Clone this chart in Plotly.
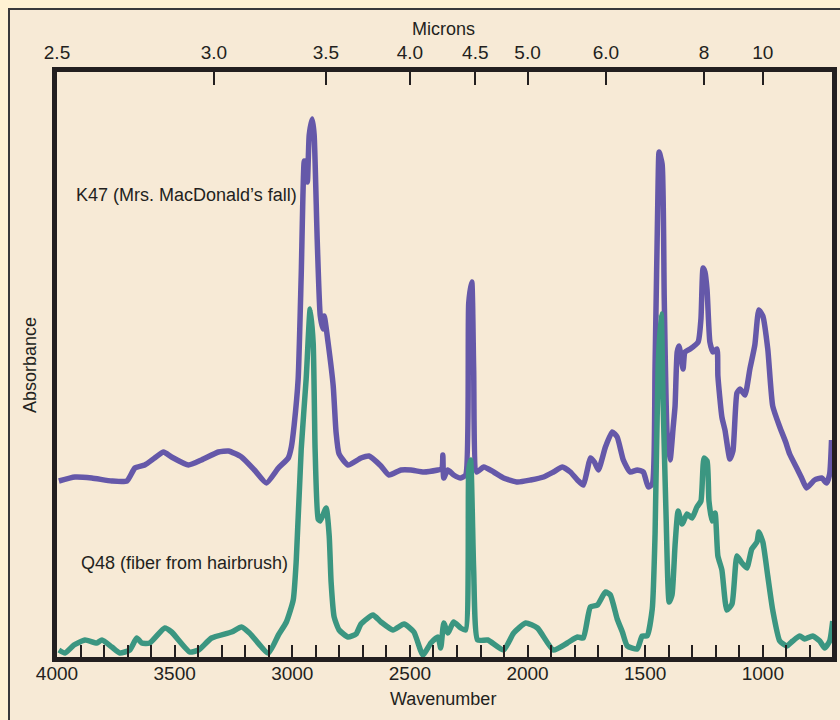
import plotly.graph_objects as go

# ---------------- data ----------------
k47_wavenumber = [3992, 3924, 3852, 3767, 3703, 3669, 3627, 3585, 3547, 3513, 3441, 3386, 3314, 3271,
                  3216, 3161, 3110, 3059, 3017, 3004, 2992, 2975, 2962, 2949, 2936, 2928, 2915, 2907,
                  2894, 2881, 2869, 2864, 2847, 2826, 2814, 2801, 2763, 2708, 2674, 2623, 2589, 2538,
                  2496, 2441, 2381, 2364, 2360, 2356, 2339, 2314, 2284, 2263, 2250, 2237, 2229, 2216,
                  2186, 2144, 2102, 2042, 1987, 1932, 1890, 1852, 1818, 1788, 1763, 1746, 1733, 1716,
                  1699, 1669, 1640, 1619, 1593, 1564, 1534, 1508, 1487, 1470, 1458, 1445, 1441, 1428,
                  1419, 1407, 1394, 1381, 1373, 1364, 1356, 1339, 1331, 1309, 1275, 1263, 1254, 1246,
                  1237, 1225, 1212, 1195, 1191, 1174, 1161, 1140, 1127, 1110, 1097, 1076, 1055, 1034,
                  1017, 1000, 979, 958, 928, 903, 886, 856, 835, 814, 780, 750, 729, 716, 708]
k47_absorbance = [176, 180, 179, 176, 176, 189, 192, 199, 205, 200, 192, 197, 205, 206,
                  200, 187, 174, 189, 199, 210, 232, 278, 382, 496, 475, 522, 538, 522,
                  417, 341, 328, 341, 313, 271, 225, 203, 192, 199, 201, 191, 182, 187,
                  187, 185, 187, 188, 202, 179, 187, 182, 179, 182, 354, 375, 287, 185,
                  190, 185, 179, 175, 177, 180, 185, 190, 185, 177, 172, 187, 199, 195,
                  187, 210, 225, 220, 197, 185, 187, 185, 170, 173, 291, 476, 505, 493,
                  358, 224, 197, 230, 251, 305, 311, 288, 305, 308, 315, 338, 389, 385,
                  367, 315, 305, 308, 281, 240, 227, 198, 206, 264, 268, 262, 288, 312,
                  347, 341, 308, 251, 230, 215, 203, 189, 179, 169, 177, 179, 174, 183, 217]

q48_wavenumber = [3992, 3966, 3928, 3881, 3831, 3809, 3767, 3733, 3691, 3661, 3640, 3606, 3542, 3513,
                  3436, 3398, 3343, 3258, 3216, 3182, 3102, 3059, 3025, 2996, 2983, 2962, 2941, 2924,
                  2911, 2903, 2890, 2881, 2856, 2843, 2835, 2822, 2801, 2763, 2729, 2708, 2657, 2623,
                  2572, 2525, 2483, 2445, 2411, 2381, 2369, 2356, 2339, 2314, 2284, 2263, 2250, 2242,
                  2229, 2212, 2169, 2102, 2059, 2008, 1958, 1890, 1831, 1788, 1763, 1733, 1703, 1669,
                  1648, 1619, 1597, 1576, 1534, 1513, 1492, 1470, 1458, 1445, 1432, 1424, 1411, 1398,
                  1386, 1373, 1360, 1343, 1322, 1301, 1280, 1263, 1250, 1237, 1229, 1216, 1203, 1191,
                  1174, 1153, 1131, 1110, 1089, 1068, 1047, 1025, 1017, 1000, 979, 958, 928, 898,
                  873, 843, 822, 788, 758, 737, 716, 703]
q48_absorbance = [7, 4, 12, 17, 14, 17, 10, 4, 7, 19, 14, 14, 29, 25,
                  5, 7, 19, 25, 30, 24, 4, 22, 35, 57, 97, 208, 278, 348,
                  313, 208, 138, 136, 149, 121, 75, 40, 27, 20, 23, 33, 42, 35,
                  27, 33, 25, 2, 14, 20, 9, 34, 24, 35, 29, 27, 187, 197,
                  87, 17, 17, 7, 24, 34, 29, 7, 14, 20, 19, 50, 52, 65,
                  62, 38, 25, 11, 8, 21, 21, 48, 123, 291, 343, 257, 139, 55,
                  62, 112, 146, 133, 143, 139, 150, 156, 199, 196, 156, 136, 144, 101,
                  87, 47, 53, 101, 94, 89, 108, 115, 125, 115, 81, 47, 16, 11,
                  16, 21, 18, 21, 16, 9, 16, 36]

wavenumber_ticks = list(range(4000, 700, -100))
wavenumber_labels = ["4000", "3500", "3000", "2500", "2000", "1500", "1000"]
micron_ticks = [2.5, 3.0, 3.5, 4.0, 4.5, 5.0, 6.0, 8, 10]
micron_labels = ["2.5", "3.0", "3.5", "4.0", "4.5", "5.0", "6.0", "8", "10"]

series_names = ["K47 (Mrs. MacDonald’s fall)", "Q48 (fiber from hairbrush)"]

# ---------------- styling ----------------
PURPLE = "#6558A9"
TEAL = "#3B9681"
INK = "#231F20"
OUTER_BG = "#FFF2D3"
INNER_BG = "#F7EAD6"
FONT = "Liberation Sans, Arial, sans-serif"

W, H = 840, 720
L, R, T, B = 57, 8, 72, 63
PW, PH = W - L - R, H - T - B


def px(x):
    return (x - L) / PW


def py(y):
    return (H - B - y) / PH


fig = go.Figure()
fig.add_trace(go.Scatter(x=k47_wavenumber, y=k47_absorbance, mode="lines",
                         line=dict(color=PURPLE, width=5.5, shape="spline", smoothing=0.5),
                         name=series_names[0], showlegend=False, hoverinfo="skip"))
fig.add_trace(go.Scatter(x=q48_wavenumber, y=q48_absorbance, mode="lines",
                         line=dict(color=TEAL, width=5.5, shape="spline", smoothing=0.5),
                         name=series_names[1], showlegend=False, hoverinfo="skip"))
# invisible trace to anchor the micron axis
fig.add_trace(go.Scatter(x=[4000, 706], y=[None, None], xaxis="x2", mode="lines",
                         showlegend=False, hoverinfo="skip"))

bottom_text = [str(v) if str(v) in wavenumber_labels else "" for v in wavenumber_ticks]

fig.update_layout(
    width=W, height=H,
    margin=dict(l=L, r=R, t=T, b=B, pad=0, autoexpand=False),
    paper_bgcolor=OUTER_BG,
    plot_bgcolor="rgba(0,0,0,0)",
    font=dict(family=FONT, color=INK, size=18),
    xaxis=dict(range=[4000, 706], showgrid=False, zeroline=False,
               showline=True, linewidth=5, linecolor=INK, mirror=True,
               ticks="inside", ticklen=12, tickwidth=1.5, tickcolor=INK,
               tickmode="array", tickvals=wavenumber_ticks, ticktext=bottom_text,
               ticklabelstandoff=-5,
               tickfont=dict(size=19, family=FONT, color=INK)),
    xaxis2=dict(range=[4000, 706], overlaying="x", side="top", anchor="y",
                showgrid=False, zeroline=False, showline=False,
                ticks="inside", ticklen=13, tickwidth=1.5, tickcolor=INK,
                tickmode="array", tickvals=[10000 / m for m in micron_ticks],
                ticktext=micron_labels, ticklabelstandoff=8,
                tickfont=dict(size=19, family=FONT, color=INK)),
    yaxis=dict(range=[0, PH], showgrid=False, zeroline=False,
               showline=True, linewidth=5, linecolor=INK, mirror=True,
               showticklabels=False, ticks=""),
    shapes=[dict(type="rect", xref="paper", yref="paper", layer="below",
                 x0=px(9), x1=px(W + 10), y0=py(H + 10), y1=py(9),
                 fillcolor=INNER_BG, line=dict(color="#3A3A3A", width=2))],
    annotations=[
        dict(text="Microns", xref="paper", yref="paper", x=px(443), y=py(29),
             showarrow=False, font=dict(size=18), xanchor="center", yanchor="middle"),
        dict(text="Wavenumber", xref="paper", yref="paper", x=px(443), y=py(699),
             showarrow=False, font=dict(size=18), xanchor="center", yanchor="middle"),
        dict(text="Absorbance", xref="paper", yref="paper", x=px(30), y=py(365),
             showarrow=False, textangle=-90, font=dict(size=18),
             xanchor="center", yanchor="middle"),
        dict(text=series_names[0], xref="paper", yref="paper", x=px(74), y=py(195),
             showarrow=False, font=dict(size=18), xanchor="left", yanchor="middle"),
        dict(text=series_names[1], xref="paper", yref="paper", x=px(79), y=py(563),
             showarrow=False, font=dict(size=18), xanchor="left", yanchor="middle"),
    ],
)

fig.write_html("out.html",
               config={"displayModeBar": False},
               post_script="document.body.style.margin='0px';document.body.style.overflow='hidden';")
